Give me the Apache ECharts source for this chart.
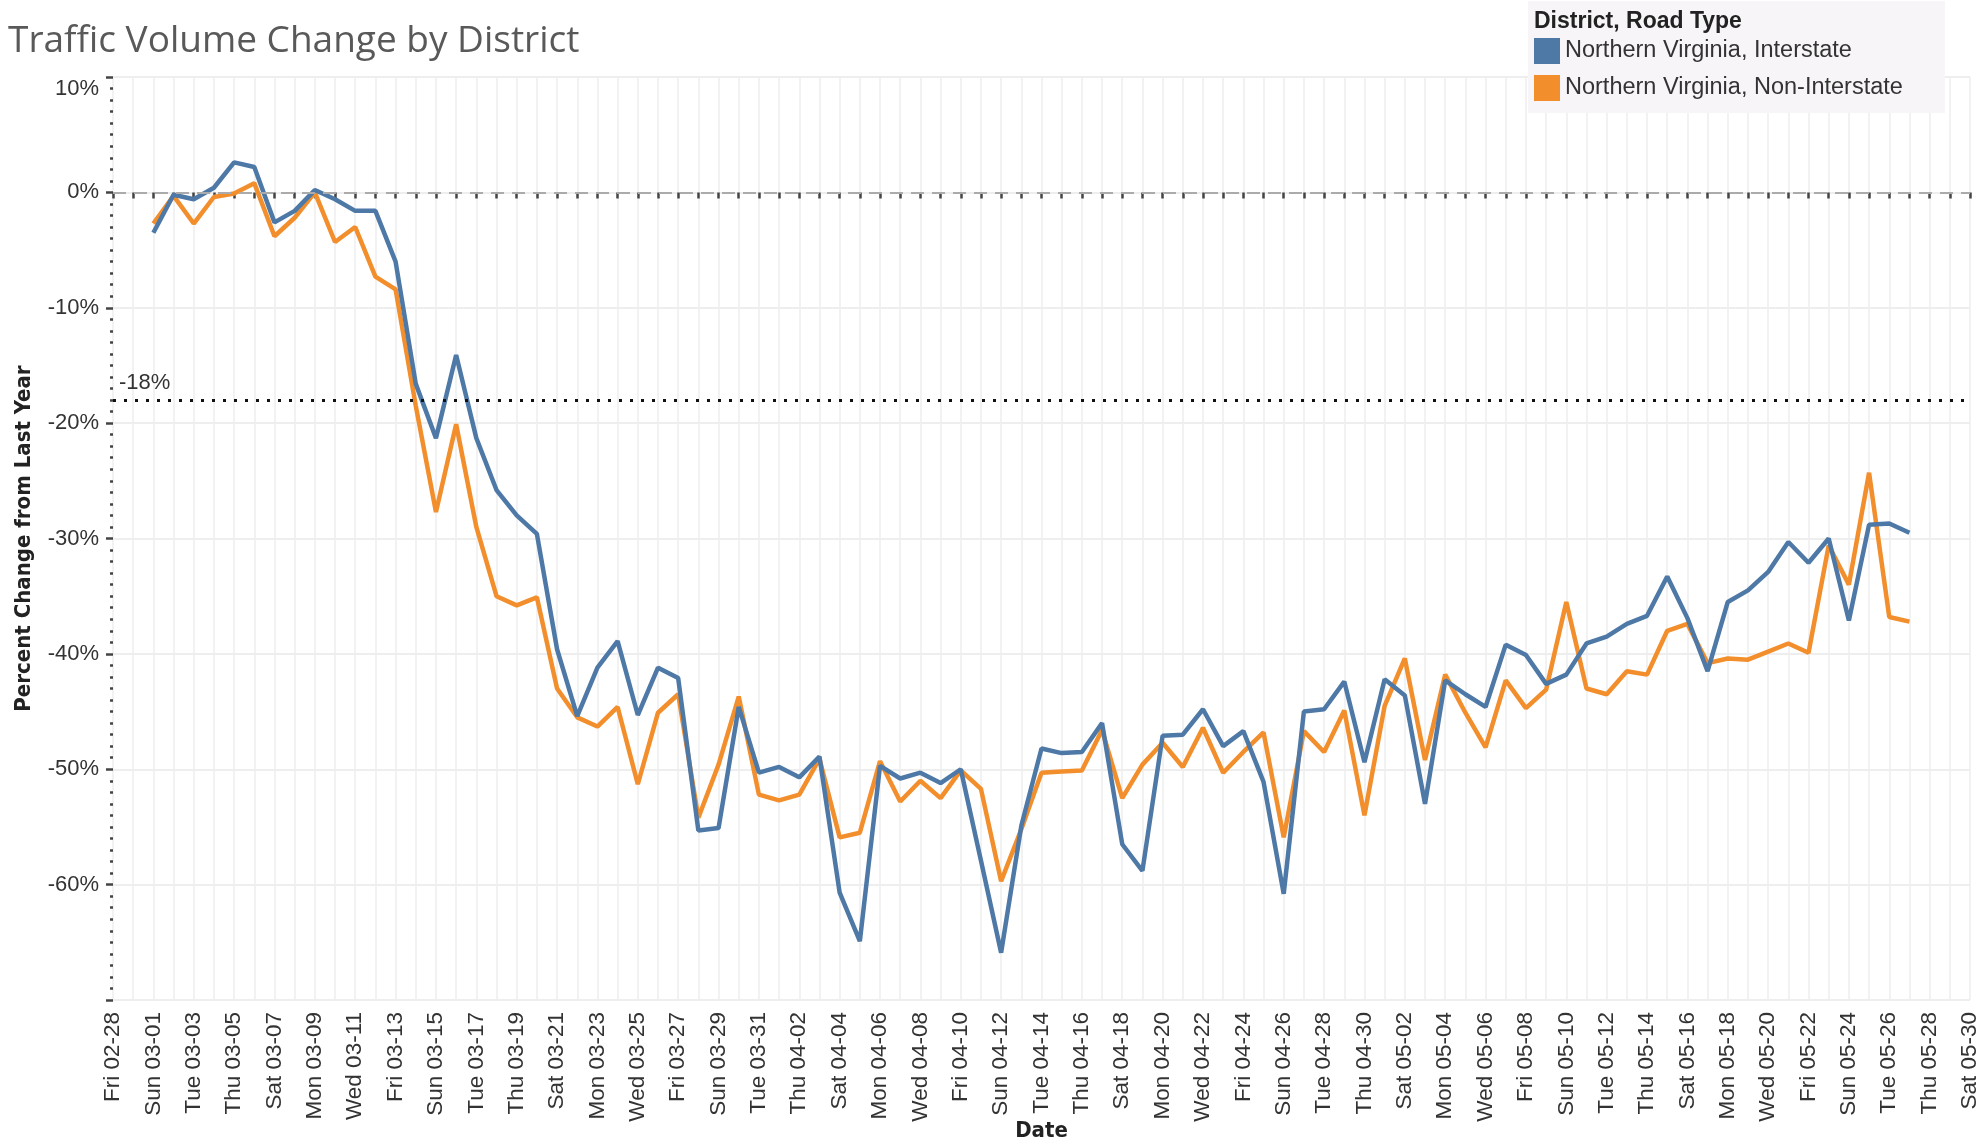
<!DOCTYPE html>
<html>
<head>
<meta charset="utf-8">
<title>Traffic Volume Change by District</title>
<script src="https://cdn.jsdelivr.net/npm/echarts@6/dist/echarts.min.js"></script>
<style>
  html, body { margin: 0; padding: 0; background: #fff; }
  #chart { width: 1980px; height: 1141px; }
</style>
</head>
<body>
<div id="chart"></div>
<script>
// every day on the axis, Fri 02-28 .. Sat 05-30
const days = [
  'Fri 02-28', 'Sat 02-29', 'Sun 03-01', 'Mon 03-02', 'Tue 03-03', 'Wed 03-04', 'Thu 03-05', 'Fri 03-06',
  'Sat 03-07', 'Sun 03-08', 'Mon 03-09', 'Tue 03-10', 'Wed 03-11', 'Thu 03-12', 'Fri 03-13', 'Sat 03-14',
  'Sun 03-15', 'Mon 03-16', 'Tue 03-17', 'Wed 03-18', 'Thu 03-19', 'Fri 03-20', 'Sat 03-21', 'Sun 03-22',
  'Mon 03-23', 'Tue 03-24', 'Wed 03-25', 'Thu 03-26', 'Fri 03-27', 'Sat 03-28', 'Sun 03-29', 'Mon 03-30',
  'Tue 03-31', 'Wed 04-01', 'Thu 04-02', 'Fri 04-03', 'Sat 04-04', 'Sun 04-05', 'Mon 04-06', 'Tue 04-07',
  'Wed 04-08', 'Thu 04-09', 'Fri 04-10', 'Sat 04-11', 'Sun 04-12', 'Mon 04-13', 'Tue 04-14', 'Wed 04-15',
  'Thu 04-16', 'Fri 04-17', 'Sat 04-18', 'Sun 04-19', 'Mon 04-20', 'Tue 04-21', 'Wed 04-22', 'Thu 04-23',
  'Fri 04-24', 'Sat 04-25', 'Sun 04-26', 'Mon 04-27', 'Tue 04-28', 'Wed 04-29', 'Thu 04-30', 'Fri 05-01',
  'Sat 05-02', 'Sun 05-03', 'Mon 05-04', 'Tue 05-05', 'Wed 05-06', 'Thu 05-07', 'Fri 05-08', 'Sat 05-09',
  'Sun 05-10', 'Mon 05-11', 'Tue 05-12', 'Wed 05-13', 'Thu 05-14', 'Fri 05-15', 'Sat 05-16', 'Sun 05-17',
  'Mon 05-18', 'Tue 05-19', 'Wed 05-20', 'Thu 05-21', 'Fri 05-22', 'Sat 05-23', 'Sun 05-24', 'Mon 05-25',
  'Tue 05-26', 'Wed 05-27', 'Thu 05-28', 'Fri 05-29', 'Sat 05-30'
]

// measured days: Sun 03-01 .. Wed 05-27
const firstDay = 'Sun 03-01'

// % change from last year
const interstate = [
  -3.5, -0.2, -0.6, 0.4, 2.6, 2.2, -2.6, -1.6, 0.2, -0.6, -1.6, -1.6, -6.0, -16.6,
  -21.3, -14.1, -21.3, -25.8, -28.0, -29.6, -39.6, -45.4, -41.2, -38.9, -45.3, -41.2, -42.1, -55.3,
  -55.1, -44.6, -50.3, -49.8, -50.7, -48.9, -60.7, -64.9, -49.7, -50.8, -50.3, -51.2, -50.0, -57.9,
  -65.9, -54.9, -48.2, -48.6, -48.5, -46.0, -56.5, -58.8, -47.1, -47.0, -44.8, -48.0, -46.7, -51.1,
  -60.8, -45.0, -44.8, -42.4, -49.4, -42.2, -43.6, -53.0, -42.3, -43.5, -44.6, -39.2, -40.1, -42.6,
  -41.8, -39.1, -38.5, -37.4, -36.7, -33.3, -36.9, -41.5, -35.5, -34.5, -32.9, -30.3, -32.1, -30.0,
  -37.1, -28.8, -28.7, -29.5
]
const nonInterstate = [
  -2.7, -0.3, -2.7, -0.4, -0.1, 0.8, -3.8, -2.2, 0.0, -4.3, -3.0, -7.3, -8.4, -18.5,
  -27.7, -20.1, -29.0, -35.0, -35.8, -35.1, -43.0, -45.5, -46.3, -44.6, -51.3, -45.1, -43.5, -54.2,
  -49.6, -43.7, -52.2, -52.7, -52.2, -49.1, -55.9, -55.5, -49.3, -52.8, -51.0, -52.5, -50.1, -51.7,
  -59.7, -55.2, -50.3, -50.2, -50.1, -46.6, -52.5, -49.6, -47.7, -49.8, -46.4, -50.3, -48.5, -46.8,
  -55.9, -46.7, -48.5, -44.9, -54.0, -44.5, -40.4, -49.2, -41.8, -45.1, -48.1, -42.3, -44.7, -43.1,
  -35.5, -43.0, -43.5, -41.5, -41.8, -38.0, -37.4, -40.8, -40.4, -40.5, -39.8, -39.1, -39.9, -30.6,
  -34.0, -24.3, -36.8, -37.2
]

// reference lines
const zeroLine = 0
const refLevel = -18

const yMin = -70
const yMax = 10
const yStep = 10

const seriesNames = ['Northern Virginia, Interstate', 'Northern Virginia, Non-Interstate']
const colors = ['#4e79a7', '#f28e2b']

const FONT = '"Liberation Sans", Arial, sans-serif'
const NARROW = '"DejaVu Sans Condensed", "Liberation Sans Narrow", "Arial Narrow", sans-serif'

const start = days.indexOf(firstDay)
const toPairs = (values) => values.map((v, i) => [days[start + i], v])

const chart = echarts.init(document.getElementById('chart'))

const option = {
  animation: false,
  backgroundColor: '#fff',
  title: [
    {
      text: 'Traffic Volume Change by District',
      left: 3,
      top: 18,
      textStyle: { fontFamily: '"Open Sans", sans-serif', fontSize: 37, fontWeight: 'normal', color: '#595959' },
    },
    {
      text: 'District, Road Type',
      left: 1529,
      top: 5,
      textStyle: { fontFamily: FONT, fontSize: 23, fontWeight: 'bold', color: '#222' },
    },
  ],
  legend: {
    data: seriesNames,
    orient: 'vertical',
    left: 1528,
    top: 1,
    padding: [37, 42, 12, 6],
    backgroundColor: '#f8f5f8',
    icon: 'rect',
    itemWidth: 26,
    itemHeight: 26,
    itemGap: 11,
    selectedMode: false,
    textStyle: { fontFamily: FONT, fontSize: 23.5, color: '#333' },
  },
  // keep the plot box fixed, labels may run to the edge
  grid: { left: 113, right: 10, top: 77, bottom: 141, outerBoundsMode: 'none' },
  xAxis: {
    type: 'category',
    data: days,
    boundaryGap: false,
    name: 'Date',
    nameLocation: 'middle',
    nameGap: 120,
    nameMoveOverlap: false,
    nameTextStyle: { fontFamily: NARROW, fontSize: 22, fontWeight: 'bold', color: '#222' },
    axisLine: { show: false },
    axisTick: { show: true, interval: 0, length: 6, lineStyle: { color: '#444', width: 2.5 } },
    axisLabel: {
      interval: 1,
      rotate: 90,
      margin: 12,
      fontFamily: FONT,
      fontSize: 22.5,
      color: '#333',
    },
    splitLine: { show: true, interval: 0, lineStyle: { color: '#eeeeee', width: 1.5 } },
  },
  yAxis: {
    type: 'value',
    min: yMin,
    max: yMax,
    interval: yStep,
    name: 'Percent Change from Last Year',
    nameLocation: 'middle',
    nameGap: 78,
    nameMoveOverlap: false,
    nameTextStyle: { fontFamily: NARROW, fontSize: 22, fontWeight: 'bold', color: '#222' },
    axisLine: { show: false },
    axisTick: { show: true, length: 7, lineStyle: { color: '#444', width: 2.5 } },
    minorTick: { show: true, splitNumber: 10, length: 3, lineStyle: { color: '#444', width: 2.5 } },
    axisLabel: {
      margin: 14,
      fontFamily: FONT,
      fontSize: 22,
      color: '#333',
      formatter(val) {
        if (val <= yMin) return ''
        // top label sits a bit lower, like the original
        if (val >= yMax) return '{top|' + val + '%}'
        return val + '%'
      },
      rich: {
        top: { padding: [24, 0, 0, 0], fontFamily: FONT, fontSize: 22, color: '#333' },
      },
    },
    splitLine: { show: true, lineStyle: { color: '#e8e8e8', width: 1.5 } },
  },
  series: [
    {
      name: seriesNames[0],
      type: 'line',
      data: toPairs(interstate),
      showSymbol: false,
      color: colors[0],
      lineStyle: { width: 4.5, color: colors[0] },
      z: 3,
      markLine: {
        silent: true,
        symbol: 'none',
        animation: false,
        data: [
          {
            yAxis: zeroLine,
            lineStyle: { color: '#ababab', type: [13, 8], width: 2 },
            label: { show: false },
          },
          {
            yAxis: refLevel,
            lineStyle: { color: '#111', type: [3, 8], width: 3 },
            label: {
              show: true,
              position: 'insideStartTop',
              distance: [6, 6],
              formatter: refLevel + '%',
              fontFamily: FONT,
              fontSize: 22,
              color: '#333',
            },
          },
        ],
      },
    },
    {
      name: seriesNames[1],
      type: 'line',
      data: toPairs(nonInterstate),
      showSymbol: false,
      color: colors[1],
      lineStyle: { width: 4.5, color: colors[1] },
      z: 2,
    },
  ],
}

chart.setOption(option)
</script>
</body>
</html>
